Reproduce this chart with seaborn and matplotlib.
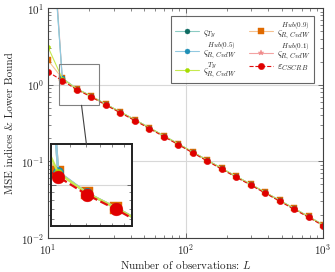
import matplotlib
matplotlib.use("Agg")
import numpy as np
import pandas as pd
import matplotlib.pyplot as plt
import seaborn as sns
from matplotlib.patches import Rectangle
from matplotlib.lines import Line2D

# number of observations
L = [10, 12.7, 16.2, 20.7, 26.4, 33.6, 42.8, 54.6, 69.5, 88.6,
     112.9, 143.8, 183.3, 233.6, 297.6, 379.3, 483.3, 615.8, 784.8, 1000]

mse_ty = [520, 1.21, 0.88, 0.705, 0.552, 0.44, 0.348, 0.274, 0.215, 0.169,
          0.132, 0.1035, 0.081, 0.0635, 0.0502, 0.0394, 0.0309, 0.0243, 0.019, 0.0148]
mse_hub05 = [450, 1.22, 0.885, 0.707, 0.553, 0.441, 0.349, 0.275, 0.215, 0.169,
             0.132, 0.1035, 0.081, 0.0636, 0.0502, 0.0394, 0.031, 0.0243, 0.0191, 0.0149]
mse_ty_r = [3.1, 1.2, 0.88, 0.705, 0.552, 0.44, 0.348, 0.274, 0.215, 0.169,
            0.132, 0.1035, 0.081, 0.0635, 0.0502, 0.0394, 0.0309, 0.0243, 0.019, 0.0148]
mse_hub09 = [2.08, 1.21, 0.882, 0.706, 0.553, 0.441, 0.349, 0.275, 0.215, 0.169,
             0.132, 0.1035, 0.081, 0.0636, 0.0502, 0.0394, 0.031, 0.0243, 0.0191, 0.0149]
mse_hub01 = [750, 1.21, 0.88, 0.705, 0.552, 0.44, 0.348, 0.274, 0.215, 0.169,
             0.132, 0.1035, 0.081, 0.0635, 0.0502, 0.0394, 0.0309, 0.0243, 0.019, 0.0148]
cscrb = [1.47, 1.13, 0.86, 0.69, 0.54, 0.43, 0.34, 0.268, 0.21, 0.165,
         0.129, 0.101, 0.079, 0.062, 0.049, 0.0385, 0.0302, 0.0237, 0.0186, 0.0145]

labels = {
    "ty": r"$\varsigma_{Ty}$",
    "hub05": r"$\varsigma^{Hub(0.5)}_{R,CvdW}$",
    "ty_r": r"$\varsigma^{Ty}_{R,CvdW}$",
    "hub09": r"$\varsigma^{Hub(0.9)}_{R,CvdW}$",
    "hub01": r"$\varsigma^{Hub(0.1)}_{R,CvdW}$",
    "cscrb": r"$\varepsilon_{CSCRB}$",
}

# (key, values, line colour, marker colour, marker, marker size, linestyle)
series = [
    ("hub01", mse_hub01, "#f3a3a3", "#f08a8a", "*", 4.0, "-"),
    ("hub09", mse_hub09, "#f6c18f", "#e06a00", "s", 4.0, "-"),
    ("ty", mse_ty, "#8ccbc3", "#0e6b62", "o", 3.6, "-"),
    ("hub05", mse_hub05, "#92c9e0", "#1f8fb5", "o", 3.6, "-"),
    ("ty_r", mse_ty_r, "#c6e94f", "#a6dc00", "o", 3.0, "-"),
    ("cscrb", cscrb, "#e01010", "#e00000", "o", 4.6, "--"),
]

sns.set_theme(style="ticks")
plt.rcParams["font.family"] = ["cmr10"]
plt.rcParams["mathtext.fontset"] = "cm"
plt.rcParams["axes.formatter.use_mathtext"] = True
plt.rcParams["axes.unicode_minus"] = False

fig = plt.figure(figsize=(3.35, 2.72), dpi=100)
ax = fig.add_axes([48 / 335, 34 / 272, 275 / 335, 230 / 272])


def draw(target, scale=1.0, with_label=True):
    for key, vals, lc, mc, mk, ms, ls in series:
        df = pd.DataFrame({"L": L, "mse": vals})
        sns.lineplot(data=df, x="L", y="mse", ax=target, color=lc,
                     linestyle=ls, linewidth=0.8 * scale, marker=mk,
                     markersize=ms * scale, markerfacecolor=mc,
                     markeredgecolor=mc, markeredgewidth=0.3,
                     label=labels[key] if with_label else None,
                     legend=False)


def style_axes(a):
    a.set_xscale("log")
    a.set_yscale("log")
    a.set_axisbelow(True)
    a.grid(True, which="major", color="#d8d8d8", linewidth=0.8)
    a.tick_params(which="both", direction="in", top=True, right=True,
                  color="#555555")
    a.tick_params(which="major", length=3.5, width=0.6)
    a.tick_params(which="minor", length=2, width=0.5)


draw(ax)
style_axes(ax)
ax.set_xlim(10, 1000)
ax.set_ylim(0.01, 10)
for s in ax.spines.values():
    s.set_color("#404040")
    s.set_linewidth(0.8)
ax.tick_params(labelsize=8, pad=3)
ax.set_xlabel("Number of observations: $L$", fontsize=8, labelpad=1)
ax.set_ylabel("MSE indices & Lower Bound", fontsize=8, labelpad=4)

handles, labs = ax.get_legend_handles_labels()
lookup = dict(zip(labs, handles))
order = ["ty", "hub05", "ty_r", "hub09", "hub01", "cscrb"]
leg = ax.legend([lookup[labels[k]] for k in order], [labels[k] for k in order],
                ncol=2, loc="upper right", bbox_to_anchor=(0.967, 0.965),
                fontsize=7.2, frameon=True, fancybox=False, borderaxespad=0,
                handlelength=2.4, handletextpad=0.4, columnspacing=1.3,
                labelspacing=0.0, borderpad=0.35)
leg.get_frame().set_edgecolor("#404040")
leg.get_frame().set_linewidth(0.8)

# zoom window
zx = (11.96, 23.6)
zy = (0.538, 1.85)
ax.add_patch(Rectangle((zx[0], zy[0]), zx[1] - zx[0], zy[1] - zy[0],
                       fill=False, edgecolor="#808080", linewidth=0.8, zorder=5))

axin = fig.add_axes([51 / 335, 46 / 272, 81 / 335, 82 / 272])
draw(axin, scale=2.0, with_label=False)
style_axes(axin)
axin.set_xlim(*zx)
axin.set_ylim(*zy)
axin.set_xlabel("")
axin.set_ylabel("")
axin.xaxis.set_major_formatter(plt.NullFormatter())
axin.xaxis.set_minor_formatter(plt.NullFormatter())
axin.yaxis.set_major_formatter(plt.NullFormatter())
axin.yaxis.set_minor_formatter(plt.NullFormatter())
for s in axin.spines.values():
    s.set_color("#202020")
    s.set_linewidth(1.4)

# connector between the zoom window and the inset (centre to centre)
c1 = ax.transData.transform((np.sqrt(zx[0] * zx[1]), np.sqrt(zy[0] * zy[1])))
y1 = ax.transData.transform((zx[0], zy[0]))[1]
bb = axin.get_position().transformed(fig.transFigure)
c2 = np.array([(bb.x0 + bb.x1) / 2, (bb.y0 + bb.y1) / 2])
y2 = bb.y1


def at_y(yv):
    t = (yv - c1[1]) / (c2[1] - c1[1])
    return c1[0] + t * (c2[0] - c1[0])


p = fig.transFigure.inverted().transform([(at_y(y1), y1), (at_y(y2), y2)])
fig.add_artist(Line2D(p[:, 0], p[:, 1], color="#404040", linewidth=0.8))

fig.savefig("out.png", dpi=100)
